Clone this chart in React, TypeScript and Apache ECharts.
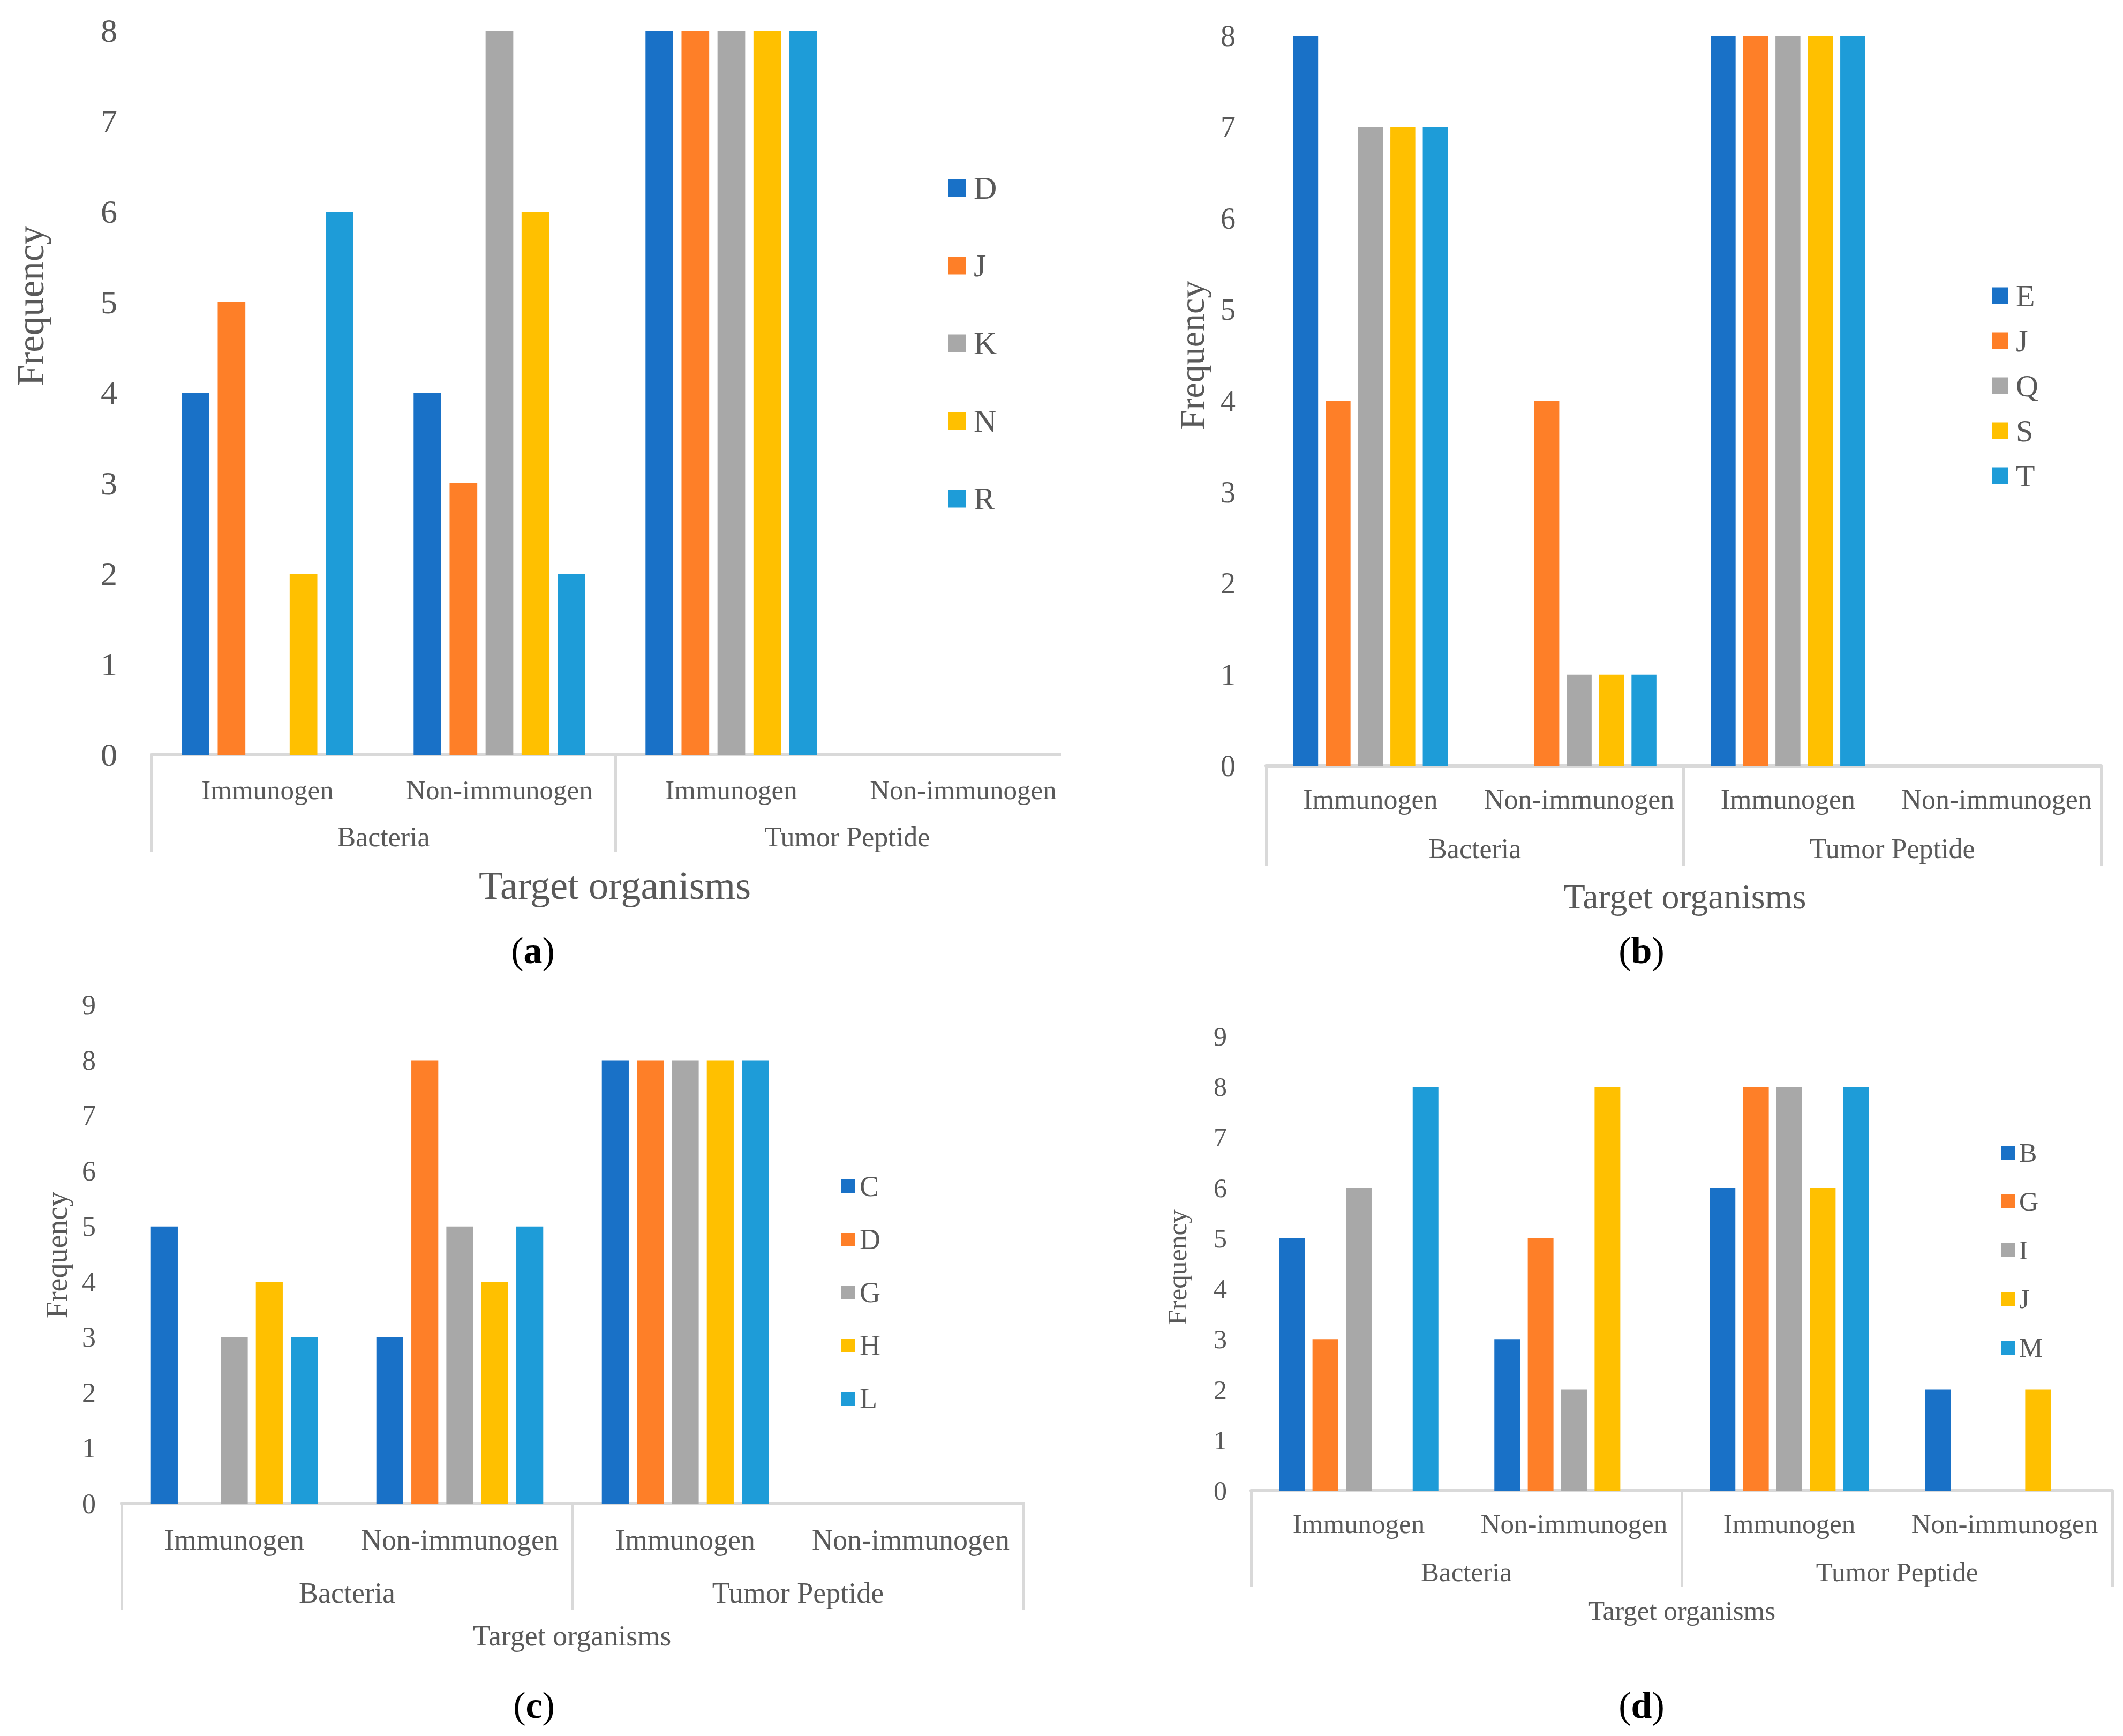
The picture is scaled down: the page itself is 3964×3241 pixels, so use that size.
import React, { useEffect, useRef } from "react";
import * as echarts from "echarts";

// ---------- data ----------
const subCategories = ["Immunogen", "Non-immunogen", "Immunogen", "Non-immunogen"];
const groupCategories = ["Bacteria", "Tumor Peptide"];
const seriesColors = ["#1971C7", "#FE7F28", "#A8A8A8", "#FFC000", "#1E9CD8"];

const namesA = ["D", "J", "K", "N", "R"];
const valuesA = [
  [4, 4, 8, 0],
  [5, 3, 8, 0],
  [0, 8, 8, 0],
  [2, 6, 8, 0],
  [6, 2, 8, 0],
];
const namesB = ["E", "J", "Q", "S", "T"];
const valuesB = [
  [8, 0, 8, 0],
  [4, 4, 8, 0],
  [7, 1, 8, 0],
  [7, 1, 8, 0],
  [7, 1, 8, 0],
];
const namesC = ["C", "D", "G", "H", "L"];
const valuesC = [
  [5, 3, 8, 0],
  [0, 8, 8, 0],
  [3, 5, 8, 0],
  [4, 4, 8, 0],
  [3, 5, 8, 0],
];
const namesD = ["B", "G", "I", "J", "M"];
const valuesD = [
  [5, 3, 6, 2],
  [3, 5, 8, 0],
  [6, 2, 8, 0],
  [0, 8, 6, 2],
  [8, 0, 8, 0],
];
const yMaxes = [8, 8, 9, 9];
const yAxisTitle = "Frequency";
const xAxisTitle = "Target organisms";
const panelLetters = ["a", "b", "c", "d"];

// ---------- styling / layout ----------
const FONT = "'Liberation Serif', 'Times New Roman', serif";
const TEXT = "#595959";
const AXIS = "#D9D9D9";

type Layout = {
  box: number[];
  grid: number[];
  yFont: number;
  yMargin: number;
  catFont: number;
  catOff: number;
  grpFont: number;
  grpOff: number;
  sepLen: number;
  xTitle: number[];
  xTitleFont: number;
  yTitle: number[];
  yTitleFont: number;
  legend: { left: number; top: number; icon: number; font: number; gap: number; pad: number };
  label: number[];
};

const layouts: Layout[] = [
  {
    box: [0, 0, 1981, 1820],
    grid: [283, 57, 2015, 1409],
    yFont: 62, yMargin: 64,
    catFont: 51, catOff: 66,
    grpFont: 52, grpOff: 153, sepLen: 182,
    xTitle: [1148, 1653], xTitleFont: 74,
    yTitle: [57, 571], yTitleFont: 71,
    legend: { left: 1770, top: 321, icon: 33, font: 60, gap: 85, pad: 10 },
    label: [995, 1774],
  },
  {
    box: [2100, 0, 1864, 1820],
    grid: [2364, 67, 3923, 1430],
    yFont: 56, yMargin: 57,
    catFont: 52, catOff: 62,
    grpFont: 52, grpOff: 154, sepLen: 186,
    xTitle: [3146, 1673], xTitleFont: 66,
    yTitle: [2225, 663], yTitleFont: 66,
    legend: { left: 3719, top: 523, icon: 31, font: 58, gap: 26, pad: 9 },
    label: [3065, 1774],
  },
  {
    box: [0, 1820, 2100, 1421],
    grid: [227, 1876, 1911, 2807],
    yFont: 52, yMargin: 48,
    catFont: 54, catOff: 68,
    grpFont: 54, grpOff: 167, sepLen: 199,
    xTitle: [1068, 3054], xTitleFont: 54,
    yTitle: [106, 2343], yTitleFont: 56,
    legend: { left: 1570, top: 2188, icon: 26, font: 54, gap: 45, pad: 4 },
    label: [997, 3183],
  },
  {
    box: [2100, 1820, 1864, 1421],
    grid: [2336, 1935, 3944, 2783],
    yFont: 50, yMargin: 45,
    catFont: 51, catOff: 62,
    grpFont: 51, grpOff: 152, sepLen: 180,
    xTitle: [3140, 3007], xTitleFont: 51,
    yTitle: [2198, 2366], yTitleFont: 51,
    legend: { left: 3737, top: 2127, icon: 26, font: 50, gap: 41, pad: 2 },
    label: [3065, 3183],
  },
];

function buildOption(L: Layout, names: string[], values: number[][], yMax: number, letter: string) {
  const ox = L.box[0];
  const oy = L.box[1];
  return {
    animation: false,
    textStyle: { fontFamily: FONT },
    grid: {
      left: L.grid[0] - ox,
      top: L.grid[1] - oy,
      width: L.grid[2] - L.grid[0],
      height: L.grid[3] - L.grid[1],
      containLabel: false,
      outerBoundsMode: "none",
    },
    xAxis: [
      {
        type: "category",
        data: subCategories,
        position: "bottom",
        axisLine: { show: true, lineStyle: { color: AXIS, width: 6 } },
        axisTick: { show: false },
        splitLine: { show: false },
        axisLabel: {
          interval: 0,
          hideOverlap: false,
          fontSize: L.catFont,
          fontFamily: FONT,
          color: TEXT,
          margin: L.catOff,
          verticalAlign: "middle",
        },
      },
      {
        type: "category",
        data: groupCategories,
        position: "bottom",
        axisLine: { show: false },
        axisTick: {
          show: true,
          interval: 0,
          alignWithLabel: false,
          length: L.sepLen,
          lineStyle: { color: AXIS, width: 5 },
        },
        splitLine: { show: false },
        axisLabel: {
          interval: 0,
          fontSize: L.grpFont,
          fontFamily: FONT,
          color: TEXT,
          margin: L.grpOff,
          verticalAlign: "middle",
        },
      },
    ],
    yAxis: {
      type: "value",
      min: 0,
      max: yMax,
      interval: 1,
      axisLine: { show: false },
      axisTick: { show: false },
      splitLine: { show: false },
      axisLabel: { fontSize: L.yFont, fontFamily: FONT, color: TEXT, margin: L.yMargin },
    },
    legend: {
      orient: "vertical",
      left: L.legend.left - ox,
      top: L.legend.top - oy,
      icon: "rect",
      itemWidth: L.legend.icon,
      itemHeight: L.legend.icon,
      itemGap: L.legend.gap,
      selectedMode: false,
      padding: 0,
      textStyle: {
        fontSize: L.legend.font,
        lineHeight: L.legend.font,
        fontFamily: FONT,
        color: TEXT,
        padding: [0, 0, 0, L.legend.pad],
      },
      data: names,
    },
    series: names.map((n, i) => ({
      type: "bar",
      name: n,
      data: values[i],
      xAxisIndex: 0,
      yAxisIndex: 0,
      barCategoryGap: "26%",
      barGap: "30%",
      itemStyle: { color: seriesColors[i] },
    })),
    graphic: [
      {
        type: "text",
        x: L.yTitle[0] - ox,
        y: L.yTitle[1] - oy,
        rotation: Math.PI / 2,
        style: {
          text: yAxisTitle,
          fontSize: L.yTitleFont,
          fontFamily: FONT,
          fill: TEXT,
          align: "center",
          verticalAlign: "middle",
          textAlign: "center",
          textVerticalAlign: "middle",
        },
      },
      {
        type: "text",
        x: L.xTitle[0] - ox,
        y: L.xTitle[1] - oy,
        style: {
          text: xAxisTitle,
          fontSize: L.xTitleFont,
          fontFamily: FONT,
          fill: TEXT,
          align: "center",
          verticalAlign: "middle",
          textAlign: "center",
          textVerticalAlign: "middle",
        },
      },
      {
        type: "text",
        x: L.label[0] - ox,
        y: L.label[1] - oy,
        style: {
          text: "({b|" + letter + "})",
          fontSize: 70,
          fontFamily: FONT,
          fill: "#000000",
          align: "center",
          verticalAlign: "middle",
          textAlign: "center",
          textVerticalAlign: "middle",
          rich: { b: { fontSize: 70, fontFamily: FONT, fontWeight: "bold", fill: "#000000" } },
        },
      },
    ],
  };
}

function Panel(props: { idx: number; names: string[]; values: number[][] }) {
  const ref = useRef<HTMLDivElement>(null);
  const L = layouts[props.idx];
  useEffect(() => {
    if (!ref.current) return;
    const chart = echarts.init(ref.current, null, { renderer: "svg" });
    chart.setOption(buildOption(L, props.names, props.values, yMaxes[props.idx], panelLetters[props.idx]) as any);
    return () => chart.dispose();
  }, []);
  return (
    <div
      ref={ref}
      style={{
        position: "absolute",
        left: L.box[0],
        top: L.box[1],
        width: L.box[2],
        height: L.box[3],
        overflow: "hidden",
      }}
    />
  );
}

export default function App() {
  useEffect(() => {
    document.body.style.margin = "0";
    document.body.style.background = "#ffffff";
  }, []);
  return (
    <div style={{ position: "relative", width: 3964, height: 3241, background: "#ffffff", overflow: "hidden" }}>
      <Panel idx={0} names={namesA} values={valuesA} />
      <Panel idx={1} names={namesB} values={valuesB} />
      <Panel idx={2} names={namesC} values={valuesC} />
      <Panel idx={3} names={namesD} values={valuesD} />
    </div>
  );
}
